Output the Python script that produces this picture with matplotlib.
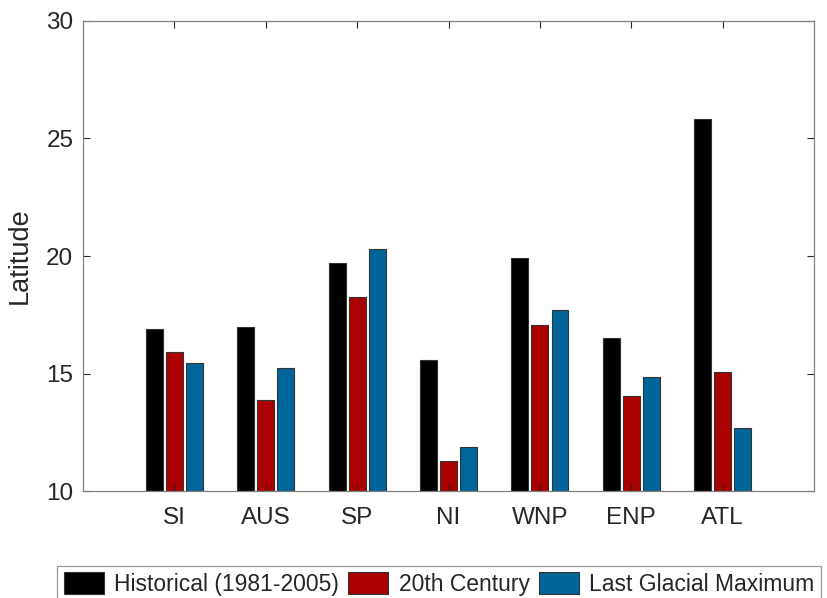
import matplotlib
matplotlib.use('Agg')
import numpy as np
import matplotlib.pyplot as plt

regions = ['SI', 'AUS', 'SP', 'NI', 'WNP', 'ENP', 'ATL']
historical = [16.88, 16.97, 19.69, 15.57, 19.90, 16.53, 25.83]
century20 = [15.93, 13.89, 18.26, 11.29, 17.07, 14.05, 15.07]
lgm = [15.44, 15.23, 20.31, 11.88, 17.72, 14.87, 12.69]
series_names = ['Historical (1981-2005)', '20th Century', 'Last Glacial Maximum']
colors = ['#000000', '#AA0000', '#006699']

plt.rcParams['font.family'] = ['Liberation Sans', 'DejaVu Sans']

fig = plt.figure(figsize=(8.27, 5.98), dpi=100)
ax = fig.add_axes([0.1004, 0.1784, 0.8839, 0.787])

x = np.arange(1, len(regions) + 1)
width = 0.185
offsets = [-0.22, 0.0, 0.22]
handles = []
for data, off, c, name in zip([historical, century20, lgm], offsets, colors, series_names):
    b = ax.bar(x + off, np.array(data) - 10, width, bottom=10, color=c,
               edgecolor='#333333', linewidth=0.8, label=name)
    handles.append(b)

ax.set_xlim(0, 8)
ax.set_ylim(10, 30)
ax.set_xticks(x)
ax.set_xticklabels(regions)
ax.set_yticks([10, 15, 20, 25, 30])
ax.tick_params(axis='both', direction='in', top=True, right=True, length=5,
               width=0.8, color='#262626', labelsize=17.5, labelcolor='#262626')
ax.tick_params(axis='x', pad=11)
ax.tick_params(axis='y', pad=7)
for s in ax.spines.values():
    s.set_color('#808080')
    s.set_linewidth(0.9)
ax.set_ylabel('Latitude', fontsize=19.5, color='#262626')
ax.yaxis.set_label_coords(-0.069, 0.5)

leg = fig.legend(handles=handles, labels=series_names, loc='upper left',
                 bbox_to_anchor=(57 / 827, 1 - 565.5 / 598), ncol=3, fontsize=16.5,
                 frameon=True, fancybox=False, edgecolor='#808080',
                 handlelength=1.75, handleheight=1.1, handletextpad=0.45,
                 columnspacing=0.4, borderpad=0.3, borderaxespad=0)
leg.get_frame().set_linewidth(0.9)
for t in leg.get_texts():
    t.set_color('#262626')

fig.savefig('out.png', dpi=100)
